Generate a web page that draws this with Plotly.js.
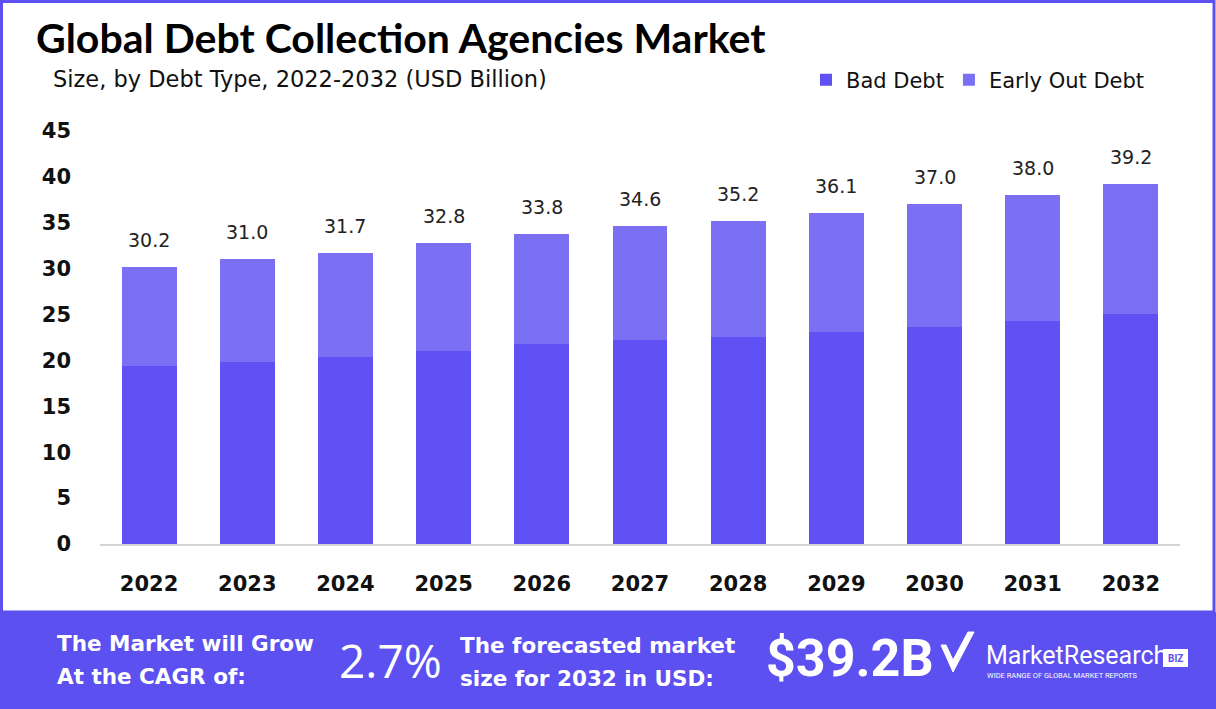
<!DOCTYPE html>
<html>
<head>
<meta charset="utf-8">
<script src="https://cdn.plot.ly/plotly-3.0.1.min.js"></script>
<style>
  html, body { margin: 0; padding: 0; background: #ffffff; }
  #chart { width: 1216px; height: 709px; }
</style>
</head>
<body>
<div id="chart"></div>
<script>
const years = ['2022','2023','2024','2025','2026','2027','2028','2029','2030','2031','2032'];
const badDebt = [19.4, 19.8, 20.4, 21.0, 21.8, 22.2, 22.6, 23.1, 23.6, 24.3, 25.1];
const totals = [30.2, 31.0, 31.7, 32.8, 33.8, 34.6, 35.2, 36.1, 37.0, 38.0, 39.2];
const earlyOutDebt = totals.map((t, i) => +(t - badDebt[i]).toFixed(1));
const yTicks = [0, 5, 10, 15, 20, 25, 30, 35, 40, 45];
const cagrText = '2.7%';
const forecastText = '$39.2B';

const W = 1216, H = 709;
const mL = 100, mR = 36, mT = 131, mB = 165;
const pw = W - mL - mR, ph = H - mT - mB;
const px = x => (x - mL) / pw;
const py = y => (H - mB - y) / ph;

const colBad = '#5F51F3';
const colEarly = '#7B6FF3';
const colBanner = '#5C50F0';
const ui = '"DejaVu Sans", Inter, sans-serif';

const traces = [
  { type: 'bar', name: 'Bad Debt', x: years, y: badDebt, marker: { color: colBad }, width: 0.56, hoverinfo: 'skip' },
  { type: 'bar', name: 'Early Out Debt', x: years, y: earlyOutDebt, marker: { color: colEarly }, width: 0.56, hoverinfo: 'skip' }
];

const annotations = years.map((yr, i) => ({
  x: i, y: totals[i], xref: 'x', yref: 'y', text: totals[i].toFixed(1),
  showarrow: false, yanchor: 'bottom', yshift: 14,
  font: { family: ui, size: 19, color: '#222' }
}));

const bannerTexts = [
  { x: 55, y: 643, text: '<b>The Market will Grow</b>', size: 21.5, anchor: 'left' },
  { x: 55, y: 676, text: '<b>At the CAGR of:</b>', size: 21.5, anchor: 'left' },
  { x: 337, y: 660, text: cagrText, size: 46, anchor: 'left', family: '"Open Sans", sans-serif' },
  { x: 458, y: 645, text: '<b>The forecasted market</b>', size: 21.5, anchor: 'left' },
  { x: 458, y: 678, text: '<b>size for 2032 in USD:</b>', size: 21.5, anchor: 'left' },
  { x: 764, y: 658, text: '<b>' + forecastText + '</b>', size: 52, anchor: 'left', family: 'Roboto, sans-serif' },
  { x: 984, y: 655, text: 'MarketResearch', size: 25, anchor: 'left', family: 'Roboto, sans-serif' },
  { x: 985, y: 675, text: 'WIDE RANGE OF GLOBAL MARKET REPORTS', size: 7.5, anchor: 'left', family: 'Roboto, sans-serif' },
  { x: 1175, y: 658, text: '<b>BIZ</b>', size: 10, anchor: 'center', color: colBanner, family: 'Roboto, sans-serif' }
];
bannerTexts.forEach(b => annotations.push({
  xref: 'paper', yref: 'paper', x: px(b.x), y: py(b.y), xanchor: b.anchor, yanchor: 'middle',
  text: b.text, showarrow: false,
  font: { family: b.family || ui, size: b.size, color: b.color || '#ffffff' }
}));

annotations.push({
  xref: 'paper', yref: 'paper', x: px(51), y: py(79), xanchor: 'left', yanchor: 'middle',
  text: 'Size, by Debt Type, 2022-2032 (USD Billion)', showarrow: false,
  font: { family: ui, size: 22.5, color: '#111' }
});

const shapes = [
  { type: 'rect', xref: 'paper', yref: 'paper', x0: px(0), x1: px(W), y0: py(H), y1: py(612),
    fillcolor: colBanner, line: { width: 0 }, layer: 'below' },
  { type: 'rect', xref: 'paper', yref: 'paper', x0: px(1.5), x1: px(W - 2), y0: py(612), y1: py(1.5),
    fillcolor: 'rgba(0,0,0,0)', line: { color: colBanner, width: 3 } },
  { type: 'rect', xref: 'paper', yref: 'paper', x0: px(1163), x1: px(1188), y0: py(667), y1: py(649),
    fillcolor: '#ffffff', line: { width: 0 } },
  { type: 'path', xref: 'paper', yref: 'paper',
    path: `M ${px(941)} ${py(645)} L ${px(953)} ${py(672)} L ${px(974)} ${py(632)} L ${px(968)} ${py(632)} L ${px(953)} ${py(660)} L ${px(946)} ${py(645)} Z`,
    fillcolor: '#ffffff', line: { color: '#ffffff', width: 1 } }
];

const layout = {
  width: W, height: H,
  margin: { l: mL, r: mR, t: mT, b: mB, pad: 0 },
  paper_bgcolor: '#ffffff', plot_bgcolor: '#ffffff',
  barmode: 'stack',
  title: { text: '<b>Global Debt Collection Agencies Market</b>', x: 36 / W, xanchor: 'left', xref: 'container',
           y: 1 - 39 / H, yanchor: 'middle', yref: 'container',
           font: { family: 'Lato, "Open Sans", sans-serif', size: 41, color: '#000' } },
  showlegend: true,
  legend: { orientation: 'h', x: px(806), xanchor: 'left', y: py(80), yanchor: 'middle',
            font: { family: ui, size: 21, color: '#111' }, traceorder: 'normal', bgcolor: 'rgba(0,0,0,0)' },
  xaxis: { type: 'category', range: [-0.5, 10.5], showgrid: false, showline: true, linecolor: '#d4d4d4', linewidth: 2,
           ticks: '', ticklabelstandoff: 20, fixedrange: true,
           tickfont: { family: ui, size: 21, color: '#111', weight: 'bold' } },
  yaxis: { range: [0, 45], tickvals: yTicks, showgrid: false, zeroline: false, showline: false,
           ticks: '', ticklabelstandoff: 28, fixedrange: true,
           tickfont: { family: ui, size: 21, color: '#111', weight: 'bold' } },
  annotations, shapes
};

Plotly.newPlot('chart', traces, layout, { displayModeBar: false, staticPlot: true });
</script>
</body>
</html>
